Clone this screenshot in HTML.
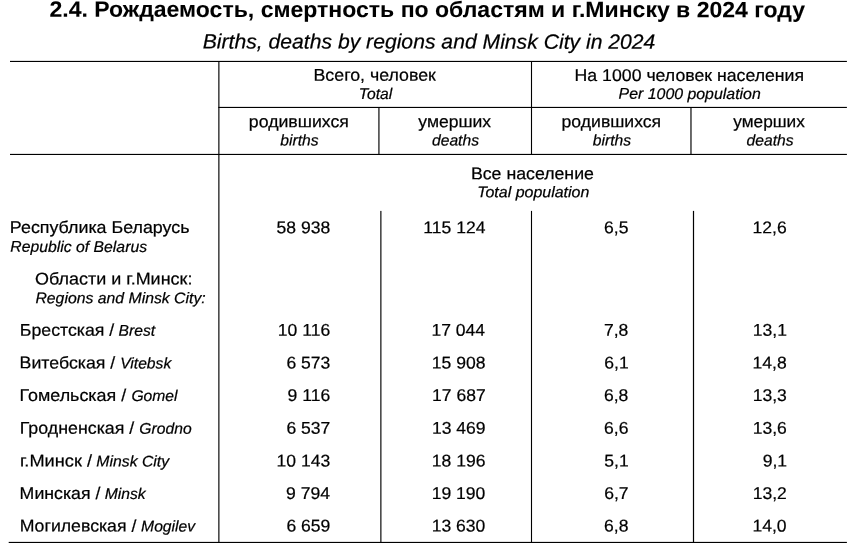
<!DOCTYPE html>
<html lang="ru"><head><meta charset="utf-8"><title>2.4</title>
<style>
html,body{margin:0;padding:0;background:#fff;}
body{width:868px;height:552px;overflow:hidden;}
svg{display:block;font-family:'Liberation Sans', sans-serif;fill:#000;}
text{white-space:pre;stroke:#000;}
</style></head><body>
<svg width="868" height="552" viewBox="0 0 868 552" stroke-width="0.22">
<rect x="10.00" y="60.88" width="836.90" height="1.12" fill="#000"/>
<rect x="218.30" y="106.88" width="628.60" height="1.12" fill="#000"/>
<rect x="10.00" y="153.88" width="836.90" height="1.12" fill="#000"/>
<rect x="8.70" y="541.88" width="838.20" height="1.12" fill="#000"/>
<rect x="218.30" y="61.00" width="1.15" height="482.00" fill="#000"/>
<rect x="378.35" y="107.00" width="1.15" height="48.00" fill="#000"/>
<rect x="530.95" y="61.00" width="1.1" height="94.00" fill="#000"/>
<rect x="690.40" y="107.00" width="1.15" height="48.00" fill="#000"/>
<rect x="380.30" y="210.90" width="1.15" height="332.10" fill="#000"/>
<rect x="530.95" y="210.90" width="1.1" height="332.10" fill="#000"/>
<rect x="692.90" y="210.90" width="1.2" height="332.10" fill="#000"/>
<text id="title" stroke-width="0.06" class="t" transform="matrix(1.0335 0.00056 0 1 49.52 16.80)" font-size="22.3" font-weight="bold">2.4. Рождаемость, смертность по областям и г.Минску в 2024 году</text>
<text id="sub" class="t" transform="matrix(1.0227 0.00056 0 1 202.65 48.48)" font-size="20.7" font-style="italic">Births, deaths by regions and Minsk City in 2024</text>
<text id="h1" class="t" transform="matrix(1.0457 0.00056 0 1 313.53 80.77)" font-size="17.0">Всего, человек</text>
<text id="h1e" class="t" transform="matrix(1.0120 0.00056 0 1 358.78 98.99)" font-size="15.5" font-style="italic">Total</text>
<text id="h2" class="t" transform="matrix(1.0419 0.00056 0 1 574.57 80.94)" font-size="17.0">На 1000 человек населения</text>
<text id="h2e" class="t" transform="matrix(1.0252 0.00056 0 1 618.59 98.86)" font-size="15.5" font-style="italic">Per 1000 population</text>
<text id="c1" class="t" transform="matrix(1.0419 0.00056 0 1 248.87 127.27)" font-size="17.0">родившихся</text>
<text id="c1e" class="t" transform="matrix(1.0120 0.00056 0 1 280.34 145.59)" font-size="15.5" font-style="italic">births</text>
<text id="c2" class="t" transform="matrix(1.0327 0.00056 0 1 418.35 127.28)" font-size="17.0">умерших</text>
<text id="c2e" class="t" transform="matrix(1.0120 0.00056 0 1 431.95 145.59)" font-size="15.5" font-style="italic">deaths</text>
<text id="c3" class="t" transform="matrix(1.0370 0.00056 0 1 561.58 127.27)" font-size="17.0">родившихся</text>
<text id="c3e" class="t" transform="matrix(1.0120 0.00056 0 1 592.80 145.59)" font-size="15.5" font-style="italic">births</text>
<text id="c4" class="t" transform="matrix(1.0163 0.00056 0 1 733.24 127.28)" font-size="17.0">умерших</text>
<text id="c4e" class="t" transform="matrix(1.0120 0.00056 0 1 746.52 145.59)" font-size="15.5" font-style="italic">deaths</text>
<text id="all" class="t" transform="matrix(1.0435 0.00056 0 1 470.92 179.17)" font-size="17.0">Все население</text>
<text id="alle" class="t" transform="matrix(1.0320 0.00056 0 1 477.13 197.17)" font-size="15.5" font-style="italic">Total population</text>
<text id="rb" class="t" transform="matrix(1.0507 0.00056 0 1 9.84 232.95)" font-size="17.0">Республика Беларусь</text>
<text id="rbe" class="t" transform="matrix(1.0176 0.00056 0 1 10.36 251.86)" font-size="15.5" font-style="italic">Republic of Belarus</text>
<text id="ob" class="t" transform="matrix(1.0577 0.00056 0 1 35.08 284.46)" font-size="17.0">Области и г.Минск:</text>
<text id="obe" class="t" transform="matrix(1.0195 0.00056 0 1 35.42 303.15)" font-size="15.5" font-style="italic">Regions and Minsk City:</text>
<text id="r0v0" class="t" transform="matrix(1.0320 0.00056 0 1 276.60 233.19)" font-size="17.0">58 938</text>
<text id="r0v1" class="t" transform="matrix(1.0320 0.00056 0 1 423.36 233.18)" font-size="17.0">115 124</text>
<text id="r0v2" class="t" transform="matrix(1.0320 0.00056 0 1 604.05 233.19)" font-size="17.0">6,5</text>
<text id="r0v3" class="t" transform="matrix(1.0320 0.00056 0 1 752.51 233.19)" font-size="17.0">12,6</text>
<text id="r1n" class="t" transform="matrix(1.0447 0.00056 0 1 19.77 335.78)" font-size="17.0">Брестская /</text>
<text id="r1e" class="t" transform="matrix(1.0120 0.00056 0 1 118.61 335.79)" font-size="15.5" font-style="italic">Brest</text>
<text id="r1v0" class="t" transform="matrix(1.0320 0.00056 0 1 277.81 335.79)" font-size="17.0">10 116</text>
<text id="r1v1" class="t" transform="matrix(1.0320 0.00056 0 1 431.42 335.79)" font-size="17.0">17 044</text>
<text id="r1v2" class="t" transform="matrix(1.0320 0.00056 0 1 603.99 335.79)" font-size="17.0">7,8</text>
<text id="r1v3" class="t" transform="matrix(1.0320 0.00056 0 1 752.77 335.79)" font-size="17.0">13,1</text>
<text id="r2n" class="t" transform="matrix(1.0449 0.00056 0 1 19.59 368.37)" font-size="17.0">Витебская /</text>
<text id="r2e" class="t" transform="matrix(1.0120 0.00056 0 1 120.14 368.39)" font-size="15.5" font-style="italic">Vitebsk</text>
<text id="r2v0" class="t" transform="matrix(1.0320 0.00056 0 1 286.43 368.39)" font-size="17.0">6 573</text>
<text id="r2v1" class="t" transform="matrix(1.0320 0.00056 0 1 431.82 368.39)" font-size="17.0">15 908</text>
<text id="r2v2" class="t" transform="matrix(1.0320 0.00056 0 1 604.32 368.39)" font-size="17.0">6,1</text>
<text id="r2v3" class="t" transform="matrix(1.0320 0.00056 0 1 752.61 368.39)" font-size="17.0">14,8</text>
<text id="r3n" class="t" transform="matrix(1.0540 0.00056 0 1 19.50 401.07)" font-size="17.0">Гомельская /</text>
<text id="r3e" class="t" transform="matrix(1.0120 0.00056 0 1 131.41 401.09)" font-size="15.5" font-style="italic">Gomel</text>
<text id="r3v0" class="t" transform="matrix(1.0320 0.00056 0 1 287.60 401.09)" font-size="17.0">9 116</text>
<text id="r3v1" class="t" transform="matrix(1.0320 0.00056 0 1 432.06 401.09)" font-size="17.0">17 687</text>
<text id="r3v2" class="t" transform="matrix(1.0320 0.00056 0 1 603.99 401.09)" font-size="17.0">6,8</text>
<text id="r3v3" class="t" transform="matrix(1.0320 0.00056 0 1 752.64 401.09)" font-size="17.0">13,3</text>
<text id="r4n" class="t" transform="matrix(1.0486 0.00056 0 1 19.72 433.67)" font-size="17.0">Гродненская /</text>
<text id="r4e" class="t" transform="matrix(1.0120 0.00056 0 1 139.36 433.69)" font-size="15.5" font-style="italic">Grodno</text>
<text id="r4v0" class="t" transform="matrix(1.0320 0.00056 0 1 286.42 433.69)" font-size="17.0">6 537</text>
<text id="r4v1" class="t" transform="matrix(1.0320 0.00056 0 1 431.88 433.69)" font-size="17.0">13 469</text>
<text id="r4v2" class="t" transform="matrix(1.0320 0.00056 0 1 604.05 433.69)" font-size="17.0">6,6</text>
<text id="r4v3" class="t" transform="matrix(1.0320 0.00056 0 1 752.65 433.69)" font-size="17.0">13,6</text>
<text id="r5n" class="t" transform="matrix(1.0708 0.00056 0 1 19.93 466.38)" font-size="17.0">г.Минск /</text>
<text id="r5e" class="t" transform="matrix(1.0170 0.00056 0 1 96.36 466.38)" font-size="15.5" font-style="italic">Minsk City</text>
<text id="r5v0" class="t" transform="matrix(1.0320 0.00056 0 1 276.62 466.39)" font-size="17.0">10 143</text>
<text id="r5v1" class="t" transform="matrix(1.0320 0.00056 0 1 431.84 466.39)" font-size="17.0">18 196</text>
<text id="r5v2" class="t" transform="matrix(1.0320 0.00056 0 1 604.32 466.39)" font-size="17.0">5,1</text>
<text id="r5v3" class="t" transform="matrix(1.0320 0.00056 0 1 762.63 466.39)" font-size="17.0">9,1</text>
<text id="r6n" class="t" transform="matrix(1.0431 0.00056 0 1 19.62 498.98)" font-size="17.0">Минская /</text>
<text id="r6e" class="t" transform="matrix(1.0120 0.00056 0 1 104.76 498.99)" font-size="15.5" font-style="italic">Minsk</text>
<text id="r6v0" class="t" transform="matrix(1.0320 0.00056 0 1 286.05 498.99)" font-size="17.0">9 794</text>
<text id="r6v1" class="t" transform="matrix(1.0320 0.00056 0 1 431.66 498.99)" font-size="17.0">19 190</text>
<text id="r6v2" class="t" transform="matrix(1.0320 0.00056 0 1 604.24 498.99)" font-size="17.0">6,7</text>
<text id="r6v3" class="t" transform="matrix(1.0320 0.00056 0 1 752.70 498.99)" font-size="17.0">13,2</text>
<text id="r7n" class="t" transform="matrix(1.0417 0.00056 0 1 19.66 531.57)" font-size="17.0">Могилевская /</text>
<text id="r7e" class="t" transform="matrix(1.0120 0.00056 0 1 141.09 531.59)" font-size="15.5" font-style="italic">Mogilev</text>
<text id="r7v0" class="t" transform="matrix(1.0320 0.00056 0 1 286.45 531.59)" font-size="17.0">6 659</text>
<text id="r7v1" class="t" transform="matrix(1.0320 0.00056 0 1 431.66 531.59)" font-size="17.0">13 630</text>
<text id="r7v2" class="t" transform="matrix(1.0320 0.00056 0 1 604.01 531.59)" font-size="17.0">6,8</text>
<text id="r7v3" class="t" transform="matrix(1.0320 0.00056 0 1 752.45 531.59)" font-size="17.0">14,0</text>
</svg>
</body></html>
